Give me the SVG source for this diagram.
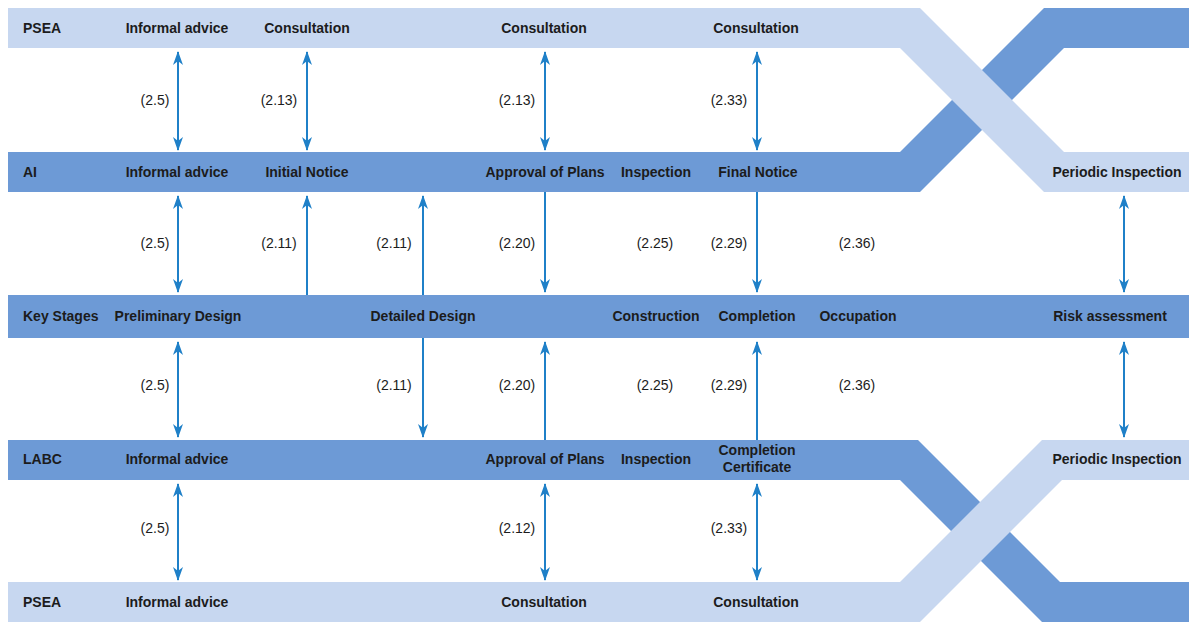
<svg xmlns="http://www.w3.org/2000/svg" width="1189" height="622" viewBox="0 0 1189 622">
<style>
.light{fill:#c7d7f0}
.dark{fill:#6d9ad6}
.t{font-family:"Liberation Sans",Arial,sans-serif;font-size:14px;font-weight:bold;fill:#1c1c1c;text-anchor:middle}
.tl{font-family:"Liberation Sans",Arial,sans-serif;font-size:14px;font-weight:bold;fill:#1c1c1c}
.n{font-family:"Liberation Sans",Arial,sans-serif;font-size:14px;fill:#1c1c1c;text-anchor:middle}
.a{stroke:#1f80c8;stroke-width:2;fill:none}
.d{marker-start:url(#ah);marker-end:url(#ah)}
.e{marker-end:url(#ah)}
</style>
<defs>
<marker id="ah" viewBox="0 0 14 10" refX="13" refY="5" markerWidth="14" markerHeight="10" markerUnits="userSpaceOnUse" orient="auto-start-reverse">
<path d="M0,0 L14,5 L0,10 L4,5 z" fill="#1f80c8"/>
</marker>
</defs>
<g id="bands">
<polygon id="band-ai" class="dark" points="8,152 900,152 1044,8 1189,8 1189,48 1064,48 920,192 8,192"/>
<polygon id="band-psea-top" class="light" points="8,8 920,8 1064,152 1189,152 1189,192 1044,192 900,48 8,48"/>
<rect id="band-keystages" class="dark" x="8" y="295" width="1181" height="43"/>
<polygon id="band-labc" class="dark" points="8,440 918,440 1060,582 1189,582 1189,622 1042,622 900,480 8,480"/>
<polygon id="band-psea-bottom" class="light" points="8,582 900,582 1042,440 1189,440 1189,480 1062,480 920,622 8,622"/>
</g>
<g id="connectors">
<line class="a d" x1="178" y1="52" x2="178" y2="150"/>
<line class="a d" x1="307" y1="52" x2="307" y2="150"/>
<line class="a d" x1="545" y1="52" x2="545" y2="150"/>
<line class="a d" x1="757" y1="52" x2="757" y2="150"/>
<line class="a d" x1="178" y1="196" x2="178" y2="292"/>
<line class="a e" x1="307" y1="295" x2="307" y2="196"/>
<line class="a e" x1="423" y1="295" x2="423" y2="196"/>
<line class="a e" x1="545" y1="192" x2="545" y2="292"/>
<line class="a e" x1="757" y1="192" x2="757" y2="292"/>
<line class="a d" x1="1124" y1="196" x2="1124" y2="292"/>
<line class="a d" x1="178" y1="342" x2="178" y2="437"/>
<line class="a e" x1="423" y1="338" x2="423" y2="437"/>
<line class="a e" x1="545" y1="440" x2="545" y2="342"/>
<line class="a e" x1="757" y1="440" x2="757" y2="342"/>
<line class="a d" x1="1124" y1="342" x2="1124" y2="437"/>
<line class="a d" x1="178" y1="484" x2="178" y2="580"/>
<line class="a d" x1="545" y1="484" x2="545" y2="580"/>
<line class="a d" x1="757" y1="484" x2="757" y2="580"/>
</g>
<g id="refs">
<text class="n" x="155" y="105">(2.5)</text>
<text class="n" x="279" y="105">(2.13)</text>
<text class="n" x="517" y="105">(2.13)</text>
<text class="n" x="729" y="105">(2.33)</text>
<text class="n" x="155" y="248">(2.5)</text>
<text class="n" x="279" y="248">(2.11)</text>
<text class="n" x="394" y="248">(2.11)</text>
<text class="n" x="517" y="248">(2.20)</text>
<text class="n" x="655" y="248">(2.25)</text>
<text class="n" x="729" y="248">(2.29)</text>
<text class="n" x="857" y="248">(2.36)</text>
<text class="n" x="155" y="390">(2.5)</text>
<text class="n" x="394" y="390">(2.11)</text>
<text class="n" x="517" y="390">(2.20)</text>
<text class="n" x="655" y="390">(2.25)</text>
<text class="n" x="729" y="390">(2.29)</text>
<text class="n" x="857" y="390">(2.36)</text>
<text class="n" x="155" y="533">(2.5)</text>
<text class="n" x="517" y="533">(2.12)</text>
<text class="n" x="729" y="533">(2.33)</text>
</g>
<g id="row-psea-top">
<text class="tl" x="23" y="33">PSEA</text>
<text class="t" x="177" y="33">Informal advice</text>
<text class="t" x="307" y="33">Consultation</text>
<text class="t" x="544" y="33">Consultation</text>
<text class="t" x="756" y="33">Consultation</text>
</g>
<g id="row-ai">
<text class="tl" x="23" y="177">AI</text>
<text class="t" x="177" y="177">Informal advice</text>
<text class="t" x="307" y="177">Initial Notice</text>
<text class="t" x="545" y="177">Approval of Plans</text>
<text class="t" x="656" y="177">Inspection</text>
<text class="t" x="758" y="177">Final Notice</text>
<text class="t" x="1117" y="177">Periodic Inspection</text>
</g>
<g id="row-keystages">
<text class="tl" x="23" y="321">Key Stages</text>
<text class="t" x="178" y="321">Preliminary Design</text>
<text class="t" x="423" y="321">Detailed Design</text>
<text class="t" x="656" y="321">Construction</text>
<text class="t" x="757" y="321">Completion</text>
<text class="t" x="858" y="321">Occupation</text>
<text class="t" x="1110" y="321">Risk assessment</text>
</g>
<g id="row-labc">
<text class="tl" x="23" y="464">LABC</text>
<text class="t" x="177" y="464">Informal advice</text>
<text class="t" x="545" y="464">Approval of Plans</text>
<text class="t" x="656" y="464">Inspection</text>
<text class="t" x="757" y="455">Completion</text>
<text class="t" x="757" y="472">Certificate</text>
<text class="t" x="1117" y="464">Periodic Inspection</text>
</g>
<g id="row-psea-bottom">
<text class="tl" x="23" y="607">PSEA</text>
<text class="t" x="177" y="607">Informal advice</text>
<text class="t" x="544" y="607">Consultation</text>
<text class="t" x="756" y="607">Consultation</text>
</g>
</svg>
